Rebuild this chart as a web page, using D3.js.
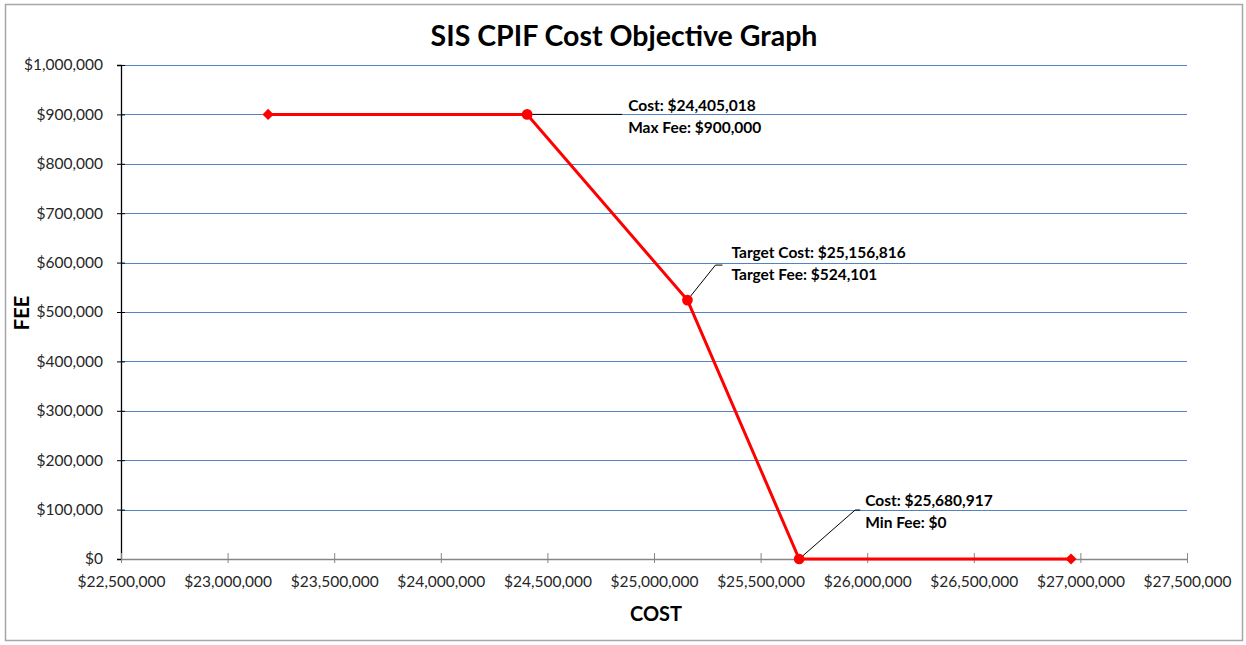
<!DOCTYPE html>
<html>
<head>
<meta charset="utf-8">
<script src="https://cdn.jsdelivr.net/npm/d3@7"></script>
<style>
  html, body { margin: 0; padding: 0; background: #fff; }
  svg { display: block; }
  text { font-family: Lato, "Liberation Sans", Arial, sans-serif; fill: #262626; }
</style>
</head>
<body>
<svg id="chart" width="1246" height="645"></svg>
<script>
// ---- Data ----
const costs = [23190000, 24405018, 25156816, 25680917, 26956000];
const fees = [900000, 900000, 524101, 0, 0];
const markerTypes = ["diamond", "circle", "circle", "circle", "diamond"];
const labelPoints = [1, 2, 3];
const labelLine1 = ["Cost: $24,405,018", "Target Cost: $25,156,816", "Cost: $25,680,917"];
const labelLine2 = ["Max Fee: $900,000", "Target Fee: $524,101", "Min Fee: $0"];
const xTicks = [22500000, 23000000, 23500000, 24000000, 24500000, 25000000, 25500000, 26000000, 26500000, 27000000, 27500000];
const yTicks = [0, 100000, 200000, 300000, 400000, 500000, 600000, 700000, 800000, 900000, 1000000];
const title = "SIS CPIF Cost Objective Graph";
const xTitle = "COST";
const yTitle = "FEE";

// ---- Layout ----
const FONT = "Lato, 'Liberation Sans', Arial, sans-serif";
const svg = d3.select("#chart");
const plotLeft = 121, plotRight = 1187, plotTop = 65, plotBottom = 559;
const x = d3.scaleLinear().domain([22500000, 27500000]).range([plotLeft, plotRight]);
const y = d3.scaleLinear().domain([0, 1000000]).range([plotBottom, plotTop]);
const money = d3.format("$,");

// outer chart border
svg.append("rect").attr("x", 5.5).attr("y", 4.5).attr("width", 1237).attr("height", 636)
  .attr("fill", "#fff").attr("stroke", "#a6a6a6").attr("stroke-width", 1.5);

// title
svg.append("text").attr("x", 624).attr("y", 46).attr("text-anchor", "middle")
  .style("font-size", "28.5px").style("font-weight", "bold").style("fill", "#000").text(title);

// gridlines
svg.append("g").selectAll("line").data(yTicks.filter(d => d > 0)).join("line")
  .attr("x1", plotLeft).attr("x2", plotRight)
  .attr("y1", d => Math.round(y(d)) + 0.5).attr("y2", d => Math.round(y(d)) + 0.5)
  .attr("stroke", "#5283C2").attr("stroke-width", 1.2);

// y axis
const yAxis = d3.axisLeft(y).tickValues(yTicks).tickFormat(money).tickSize(4).tickPadding(14);
const gy = svg.append("g").attr("transform", `translate(${plotLeft},0)`).call(yAxis);
gy.select(".domain").attr("stroke", "#000").attr("stroke-width", 1.3);
gy.selectAll(".tick line").attr("stroke", "#000").attr("x2", -4).attr("x1", 4);
gy.selectAll(".tick text").style("font-size", "15.5px").style("fill", "#262626").style("font-family", FONT);

// x axis
const xAxis = d3.axisBottom(x).tickValues(xTicks).tickFormat(money).tickSize(4).tickPadding(13).tickSizeOuter(0);
const gx = svg.append("g").attr("transform", `translate(0,${plotBottom})`).call(xAxis);
gx.select(".domain").attr("stroke", "#868686").attr("stroke-width", 1.3);
gx.selectAll(".tick line").attr("stroke", "#868686").attr("y1", -6).attr("y2", 4);
gx.selectAll(".tick text").style("font-size", "15.5px").style("fill", "#262626").style("font-family", FONT);

// axis titles
svg.append("text").attr("x", 656).attr("y", 621).attr("text-anchor", "middle")
  .style("font-size", "20px").style("font-weight", "bold").style("fill", "#000").text(xTitle);
svg.append("text").attr("transform", "translate(29,313) rotate(-90)").attr("text-anchor", "middle")
  .style("font-size", "20px").style("font-weight", "bold").style("fill", "#000").text(yTitle);

// leader lines & labels
const labelOffsets = [
  {bend: [0, 0], end: [95, 0], tx: 101, ty: -3},
  {bend: [28, -35], end: [35, -35], tx: 44, ty: -42},
  {bend: [56, -49], end: [61, -49], tx: 66, ty: -53}
];
labelPoints.forEach((pi, i) => {
  const px = x(costs[pi]), py = y(fees[pi]);
  const o = labelOffsets[i];
  svg.append("polyline")
    .attr("points", [[px, py], [px + o.bend[0], py + o.bend[1]], [px + o.end[0], py + o.end[1]]].map(p => p.join(",")).join(" "))
    .attr("fill", "none").attr("stroke", "#000").attr("stroke-width", 1);
  const t = svg.append("text").style("font-size", "15.5px").style("font-weight", "bold").style("fill", "#000");
  t.append("tspan").attr("x", px + o.tx).attr("y", py + o.ty).text(labelLine1[i]);
  t.append("tspan").attr("x", px + o.tx).attr("y", py + o.ty + 22).text(labelLine2[i]);
});

// line
const pts = costs.map((c, i) => [c, fees[i]]);
svg.append("path").datum(pts)
  .attr("d", d3.line().x(d => x(d[0])).y(d => y(d[1])))
  .attr("fill", "none").attr("stroke", "#FF0000").attr("stroke-width", 3);

// markers
svg.append("g").selectAll("path").data(pts).join("path")
  .attr("transform", d => `translate(${x(d[0])},${y(d[1])})`)
  .attr("d", (d, i) => markerTypes[i] === "diamond"
    ? d3.symbol().type(d3.symbolDiamond2).size(80)()
    : d3.symbol().type(d3.symbolCircle).size(90)())
  .attr("fill", "#FF0000");
</script>
</body>
</html>
